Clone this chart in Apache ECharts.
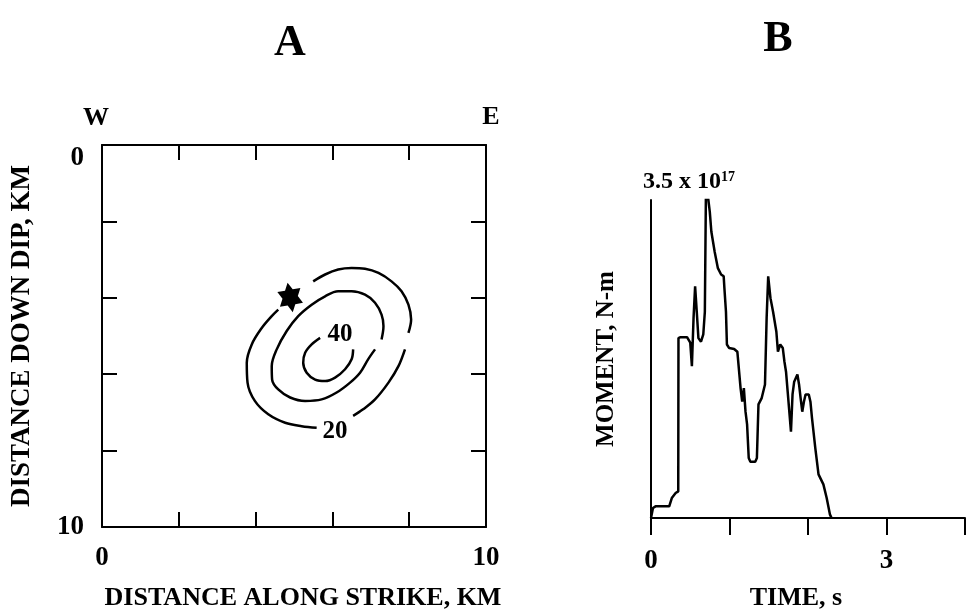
<!DOCTYPE html>
<html><head><meta charset="utf-8">
<script src="https://cdn.jsdelivr.net/npm/echarts@6/dist/echarts.min.js"></script>
<style>html,body{margin:0;padding:0;background:#fff}#c{width:968px;height:616px}</style>
</head><body><div id="c"></div>
<script>
// ---- data ----
const panelTitles = ['A', 'B'];
const compassLabels = ['W', 'E'];
const strikeTickLabels = [0, 10];   // km along strike
const dipTickLabels = [0, 10];      // km down dip
const timeTickLabels = [0, 3];      // s
const momentScaleText = '3.5 x 10';
const momentScaleExp = '17';
// slip contours (x: km along strike, y: km down dip)
const contour20_part1 = [[5.50,3.57],[5.81,3.39],[6.15,3.26],[6.50,3.22],[6.85,3.24],[7.20,3.35],[7.54,3.57],[7.80,3.83],[7.98,4.18],[8.05,4.57],[7.98,4.92]];
const contour20_part2 = [[7.89,5.35],[7.72,5.79],[7.46,6.22],[7.11,6.66],[6.80,6.92],[6.54,7.09]];
const contour20_part3 = [[5.59,7.40],[5.20,7.36],[4.77,7.27],[4.33,7.05],[3.98,6.70],[3.79,6.22],[3.77,5.70],[3.90,5.22],[4.16,4.79],[4.42,4.48],[4.59,4.31]];
const contour30 = [[7.28,5.09],[7.33,4.74],[7.28,4.44],[7.11,4.13],[6.85,3.92],[6.50,3.83],[6.15,3.83],[5.81,3.96],[5.46,4.18],[5.11,4.48],[4.81,4.87],[4.55,5.35],[4.42,5.79],[4.43,6.14],[4.59,6.40],[4.90,6.61],[5.29,6.70],[5.72,6.66],[6.11,6.48],[6.46,6.22],[6.72,5.96],[6.93,5.61],[7.11,5.35]];
const contour40 = [[5.68,5.05],[5.46,5.22],[5.29,5.44],[5.24,5.70],[5.33,5.96],[5.55,6.14],[5.81,6.18],[6.07,6.09],[6.33,5.87],[6.50,5.61],[6.54,5.35]];
const contourLabels = [[6.07,7.49,'20'],[6.20,4.96,'40']];
const hypocenter = [[4.90,3.99]];
// moment rate function (t in s, moment in units of 1e17 N-m)
const momentTime = [0,0.025,0.058,0.232,0.265,0.314,0.347,0.350,0.376,0.459,0.500,0.521,0.542,0.562,0.583,0.604,0.637,0.666,0.686,0.699,0.728,0.749,0.769,0.811,0.852,0.893,0.926,0.935,0.955,0.967,0.996,1.059,1.100,1.141,1.162,1.183,1.204,1.224,1.245,1.266,1.328,1.349,1.369,1.410,1.452,1.473,1.493,1.522,1.555,1.597,1.617,1.646,1.679,1.700,1.720,1.741,1.762,1.783,1.803,1.824,1.865,1.886,1.906,1.927,1.948,1.969,2.010,2.031,2.051,2.093,2.134,2.196,2.238,2.279,2.300];
const momentValue = [0,0.11,0.128,0.128,0.22,0.275,0.293,1.98,1.99,1.99,1.93,1.67,2.20,2.55,2.27,1.98,1.94,2.02,2.27,3.52,3.52,3.37,3.15,2.93,2.75,2.68,2.66,2.53,2.27,1.91,1.87,1.86,1.83,1.43,1.28,1.43,1.17,1.03,0.66,0.62,0.62,0.66,1.25,1.32,1.47,2.20,2.66,2.42,2.27,2.05,1.83,1.91,1.87,1.72,1.61,1.39,1.17,0.95,1.36,1.50,1.58,1.47,1.32,1.17,1.28,1.36,1.36,1.28,1.10,0.77,0.48,0.37,0.22,0.04,0];

// ---- chart ----
const FONT = '"Liberation Serif", "Times New Roman", serif';
const black = '#000';
const momentData = momentTime.map((t, i) => [t, momentValue[i]]);

const lineAxis = { onZero: false, lineStyle: { color: black, width: 2 } };
const tickIn = { show: true, inside: true, length: 15, lineStyle: { color: black, width: 2 } };
const contourStyle = { color: black, width: 2.5 };

function contourSeries(data) {
  return { type: 'line', xAxisIndex: 0, yAxisIndex: 0, data: data, smooth: 0.35,
    showSymbol: false, symbol: 'none', lineStyle: contourStyle, silent: true, animation: false };
}

const chart = echarts.init(document.getElementById('c'), null, { renderer: 'canvas' });
chart.setOption({
  backgroundColor: '#fff',
  animation: false,
  textStyle: { fontFamily: FONT },
  graphic: [
    { type: 'text', x: 290, y: 44, style: { text: panelTitles[0], font: 'bold 44px ' + FONT, fill: black, align: 'center', verticalAlign: 'middle' } },
    { type: 'text', x: 778, y: 40, style: { text: panelTitles[1], font: 'bold 44px ' + FONT, fill: black, align: 'center', verticalAlign: 'middle' } },
    { type: 'text', x: 96, y: 118, style: { text: compassLabels[0], font: 'bold 26px ' + FONT, fill: black, align: 'center', verticalAlign: 'middle' } },
    { type: 'text', x: 491, y: 117, style: { text: compassLabels[1], font: 'bold 26px ' + FONT, fill: black, align: 'center', verticalAlign: 'middle' } }
  ],
  grid: [
    { left: 102, top: 145, width: 384, height: 383 },
    { left: 651, top: 200, width: 322, height: 318 }
  ],
  xAxis: [
    { gridIndex: 0, type: 'value', position: 'bottom', min: 0, max: 10, interval: 2,
      axisLine: lineAxis, axisTick: tickIn, splitLine: { show: false },
      axisLabel: { margin: 18, color: black, fontFamily: FONT, fontWeight: 'bold', fontSize: 27,
        formatter: v => strikeTickLabels.includes(v) ? String(v) : '' },
      name: 'DISTANCE ALONG STRIKE, KM', nameLocation: 'middle', nameGap: 58,
      nameTextStyle: { color: black, fontFamily: FONT, fontWeight: 'bold', fontSize: 26, padding: [0, 0, 0, 18] } },
    { gridIndex: 0, type: 'value', position: 'top', min: 0, max: 10, interval: 2,
      axisLine: lineAxis, axisTick: tickIn, axisLabel: { show: false }, splitLine: { show: false } },
    { gridIndex: 1, type: 'value', position: 'bottom', min: 0, max: 4, interval: 1,
      axisLine: { onZero: false, lineStyle: { color: black, width: 2 } },
      axisTick: { show: true, inside: false, length: 17, lineStyle: { color: black, width: 2 } },
      splitLine: { show: false },
      axisLabel: { margin: 30, color: black, fontFamily: FONT, fontWeight: 'bold', fontSize: 27,
        formatter: v => timeTickLabels.includes(v) ? String(v) : '' },
      name: 'TIME, s', nameLocation: 'middle', nameGap: 67,
      nameTextStyle: { color: black, fontFamily: FONT, fontWeight: 'bold', fontSize: 26, padding: [0, 24, 0, 0] } }
  ],
  yAxis: [
    { gridIndex: 0, type: 'value', position: 'left', inverse: true, min: 0, max: 10, interval: 2,
      axisLine: lineAxis, axisTick: tickIn, splitLine: { show: false },
      axisLabel: { margin: 18, color: black, fontFamily: FONT, fontWeight: 'bold', fontSize: 27,
        formatter: v => v === dipTickLabels[0] ? '{lo|' + v + '}' : (dipTickLabels.includes(v) ? String(v) : ''),
        rich: { lo: { fontFamily: FONT, fontWeight: 'bold', fontSize: 27, color: black, padding: [26, 0, 0, 0] } } },
      name: 'DISTANCE DOWN DIP, KM', nameLocation: 'middle', nameRotate: 90, nameGap: 66,
      nameTextStyle: { color: black, fontFamily: FONT, fontWeight: 'bold', fontSize: 27 } },
    { gridIndex: 0, type: 'value', position: 'right', inverse: true, min: 0, max: 10, interval: 2,
      axisLine: lineAxis, axisTick: tickIn, axisLabel: { show: false }, splitLine: { show: false } },
    { gridIndex: 1, type: 'value', position: 'left', min: 0, max: 3.5,
      axisLine: { show: true, onZero: false, lineStyle: { color: black, width: 2 } },
      axisTick: { show: false }, axisLabel: { show: false }, splitLine: { show: false },
      name: momentScaleText + '{sup|' + momentScaleExp + '}', nameLocation: 'end', nameGap: 6,
      nameTextStyle: { color: black, fontFamily: FONT, fontWeight: 'bold', fontSize: 24,
        align: 'left', verticalAlign: 'bottom', padding: [0, 0, 0, -8],
        rich: { sup: { fontFamily: FONT, fontWeight: 'bold', fontSize: 14, color: black, verticalAlign: 'top', padding: [0, 0, 10, 0] } } } },
    { gridIndex: 1, type: 'value', position: 'left', min: 0, max: 3.5,
      axisLine: { show: false }, axisTick: { show: false }, axisLabel: { show: false }, splitLine: { show: false },
      name: 'MOMENT, N-m', nameLocation: 'middle', nameRotate: 90, nameGap: 32,
      nameTextStyle: { color: black, fontFamily: FONT, fontWeight: 'bold', fontSize: 25 } }
  ],
  series: [
    contourSeries(contour20_part1),
    contourSeries(contour20_part2),
    contourSeries(contour20_part3),
    contourSeries(contour30),
    contourSeries(contour40),
    { type: 'scatter', xAxisIndex: 0, yAxisIndex: 0, data: contourLabels, symbolSize: 0.1,
      itemStyle: { color: black, opacity: 1 },
      label: { show: true, position: 'inside', formatter: p => p.value[2], color: black, opacity: 1,
        fontFamily: FONT, fontWeight: 'bold', fontSize: 25 }, silent: true },
    { type: 'scatter', xAxisIndex: 0, yAxisIndex: 0, data: hypocenter,
      symbol: 'path://M0,-10 L2.887,-5 L8.66,-5 L5.774,0 L8.66,5 L2.887,5 L0,10 L-2.887,5 L-8.66,5 L-5.774,0 L-8.66,-5 L-2.887,-5 Z',
      symbolKeepAspect: true, symbolSize: [27, 30], symbolRotate: 10, itemStyle: { color: black, opacity: 1 }, silent: true },
    { type: 'line', xAxisIndex: 2, yAxisIndex: 2, data: momentData, showSymbol: false, symbol: 'none',
      lineStyle: { color: black, width: 2.5 }, silent: true }
  ]
});
</script>
</body></html>
